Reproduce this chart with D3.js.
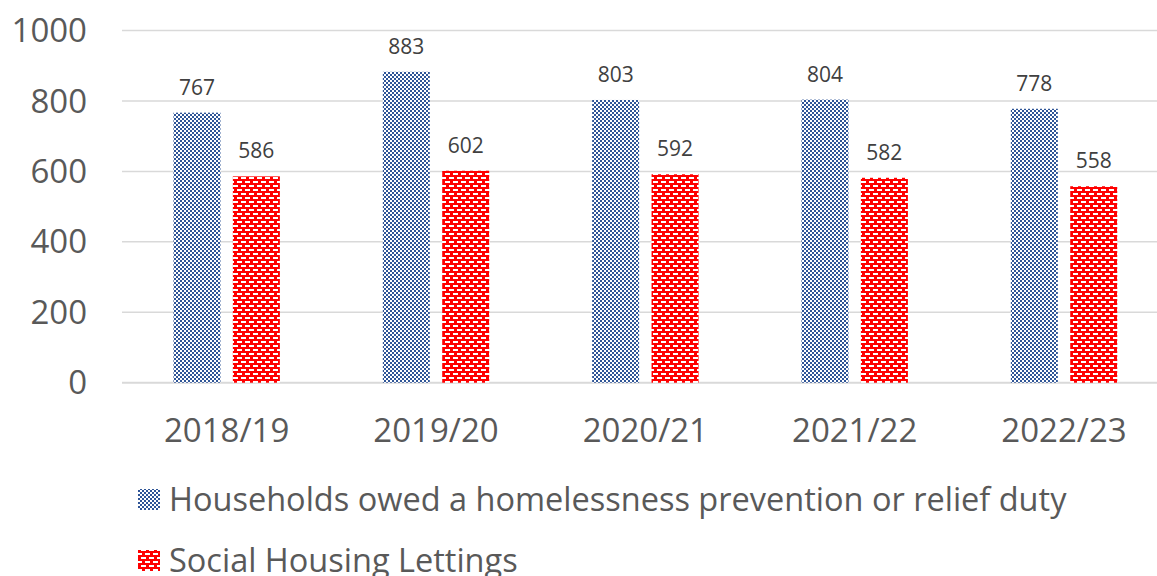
<!DOCTYPE html>
<html><head><meta charset="utf-8">
<script src="https://cdn.jsdelivr.net/npm/d3@7"></script>
<style>body{margin:0;background:#fff}svg{display:block}text{font-family:"Open Sans","Noto Sans",sans-serif}</style>
</head><body>
<svg id="c" width="1157" height="576"></svg>
<script>
const categories = ["2018/19","2019/20","2020/21","2021/22","2022/23"];
const households = [767,883,803,804,778];
const lettings = [586,602,592,582,558];
const yTicks = [0,200,400,600,800,1000];
const seriesNames = ["Households owed a homelessness prevention or relief duty","Social Housing Lettings"];

const svg = d3.select("#c");
const defs = svg.append("defs");
const pb = defs.append("pattern").attr("id","pBlue").attr("patternUnits","userSpaceOnUse").attr("width",4).attr("height",4);
pb.append("rect").attr("width",4).attr("height",4).attr("fill","#fff");
pb.append("rect").attr("x",0).attr("y",0).attr("width",2).attr("height",2).attr("fill","#2F5597");
pb.append("rect").attr("x",2).attr("y",2).attr("width",2).attr("height",2).attr("fill","#2F5597");
const pr = defs.append("pattern").attr("id","pRed").attr("patternUnits","userSpaceOnUse").attr("width",8).attr("height",8);
pr.append("rect").attr("width",8).attr("height",8).attr("fill","#FF0000");
pr.append("rect").attr("x",1).attr("y",1).attr("width",5).attr("height",2).attr("fill","#fff");
pr.append("rect").attr("x",5).attr("y",5).attr("width",5).attr("height",2).attr("fill","#fff");
pr.append("rect").attr("x",-3).attr("y",5).attr("width",5).attr("height",2).attr("fill","#fff");

const x0 = d3.scaleBand().domain(categories).range([122,1168.7]).paddingInner(0).paddingOuter(0);
const y = d3.scaleLinear().domain([0,1000]).range([382.7,30.6]);
const barW = 47, gap = 12.4;

svg.append("g").selectAll("line").data(yTicks).join("line")
  .attr("x1",122).attr("x2",1168).attr("y1",d=>y(d)).attr("y2",d=>y(d))
  .attr("stroke","#d9d9d9").attr("stroke-width",d=>d===0?2:1.5);

svg.append("g").selectAll("text").data(yTicks).join("text")
  .attr("x",87).attr("y",d=>y(d)).attr("dy","0.35em").attr("text-anchor","end")
  .attr("font-size",33).attr("fill","#595959").text(d=>d);

const series = [
  {vals:households, fill:"url(#pBlue)", off:-(gap/2+barW)},
  {vals:lettings, fill:"url(#pRed)", off:gap/2}
];
series.forEach(s=>{
  const g = svg.append("g");
  g.selectAll("rect").data(categories).join("rect")
    .attr("x",(c)=>x0(c)+x0.bandwidth()/2+s.off)
    .attr("width",barW)
    .attr("y",(c,i)=>y(s.vals[i]))
    .attr("height",(c,i)=>y(0)-y(s.vals[i]))
    .attr("fill",s.fill);
  g.selectAll("text").data(categories).join("text")
    .attr("x",(c)=>x0(c)+x0.bandwidth()/2+s.off+barW/2)
    .attr("y",(c,i)=>y(s.vals[i])-18)
    .attr("text-anchor","middle").attr("font-size",21).attr("fill","#404040")
    .text((c,i)=>s.vals[i]);
});

svg.append("g").selectAll("text").data(categories).join("text")
  .attr("x",c=>x0(c)+x0.bandwidth()/2).attr("y",442)
  .attr("text-anchor","middle").attr("font-size",33).attr("fill","#595959").text(c=>c);

const leg = svg.append("g");
const legY = [500,561];
const legFill = ["url(#pBlue)","url(#pRed)"];
seriesNames.forEach((n,i)=>{
  leg.append("rect").attr("x",138).attr("y",legY[i]-11).attr("width",22).attr("height",21).attr("fill",legFill[i]);
  leg.append("text").attr("x",169).attr("y",legY[i]).attr("dy","0.35em").attr("font-size",32.5).attr("fill","#595959").text(n);
});
</script>
</body></html>
